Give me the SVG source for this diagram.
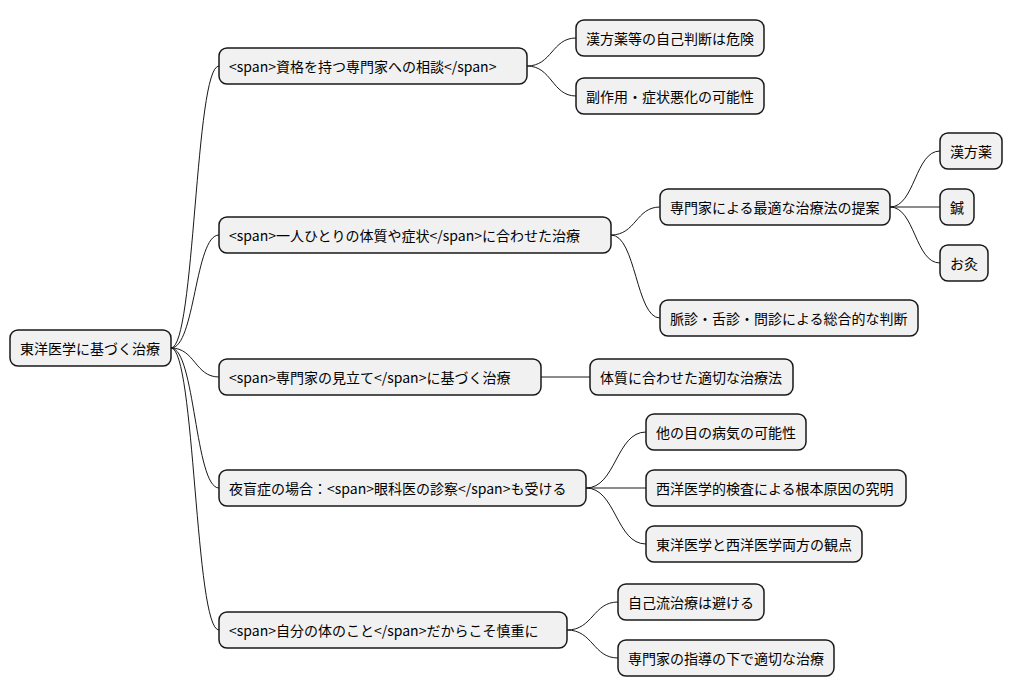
<svg xmlns="http://www.w3.org/2000/svg" width="1013" height="696" viewBox="0 0 1013 696">
<style>
rect{fill:#F1F1F1;stroke:#181818;stroke-width:1.5}
text{font-family:"Noto Sans CJK JP","Noto Sans",sans-serif;font-size:14px;fill:#000;dominant-baseline:central}
path{fill:none;stroke:#181818;stroke-width:1}
</style>
<rect x="0" y="0" width="1013" height="696" style="fill:#fff;stroke:none"/>
<g id="connectors">
<path d="M171 348 C195 348 195 66 219 66"/>
<path d="M171 348 C195 348 195 235 219 235"/>
<path d="M171 348 C195 348 195 377 219 377"/>
<path d="M171 348 C195 348 195 488 219 488"/>
<path d="M171 348 C195 348 195 630 219 630"/>
<path d="M527 66 C552 66 552 38 576 38"/>
<path d="M527 66 C552 66 552 96 576 96"/>
<path d="M611 235 C636 235 636 207 660 207"/>
<path d="M611 235 C636 235 636 318 660 318"/>
<path d="M541 377 L590 377"/>
<path d="M586 488 C616 488 616 432 646 432"/>
<path d="M586 488 L646 488"/>
<path d="M586 488 C616 488 616 544 646 544"/>
<path d="M567 630 C593 630 593 602 618 602"/>
<path d="M567 630 C593 630 593 658 618 658"/>
<path d="M890 207 C915 207 915 151 940 151"/>
<path d="M890 207 L940 207"/>
<path d="M890 207 C915 207 915 263 940 263"/>
</g>
<g id="root"><rect x="10" y="330" width="161" height="36" rx="8"/><text x="20" y="348">東洋医学に基づく治療</text></g>
<g id="n1"><rect x="219" y="48" width="308" height="36" rx="8"/><text x="229" y="66">&lt;span&gt;資格を持つ専門家への相談&lt;/span&gt;</text></g>
<g id="n2"><rect x="219" y="217" width="392" height="36" rx="8"/><text x="229" y="235">&lt;span&gt;一人ひとりの体質や症状&lt;/span&gt;に合わせた治療</text></g>
<g id="n3"><rect x="219" y="359" width="322" height="36" rx="8"/><text x="229" y="377">&lt;span&gt;専門家の見立て&lt;/span&gt;に基づく治療</text></g>
<g id="n4"><rect x="219" y="470" width="367" height="36" rx="8"/><text x="229" y="488">夜盲症の場合：&lt;span&gt;眼科医の診察&lt;/span&gt;も受ける</text></g>
<g id="n5"><rect x="219" y="612" width="348" height="36" rx="8"/><text x="229" y="630">&lt;span&gt;自分の体のこと&lt;/span&gt;だからこそ慎重に</text></g>
<g id="n1a"><rect x="576" y="20" width="188" height="36" rx="8"/><text x="586" y="38">漢方薬等の自己判断は危険</text></g>
<g id="n1b"><rect x="576" y="78" width="188" height="36" rx="8"/><text x="586" y="96">副作用・症状悪化の可能性</text></g>
<g id="n2a"><rect x="660" y="189" width="230" height="36" rx="8"/><text x="670" y="207">専門家による最適な治療法の提案</text></g>
<g id="n2b"><rect x="660" y="300" width="258" height="36" rx="8"/><text x="670" y="318">脈診・舌診・問診による総合的な判断</text></g>
<g id="n3a"><rect x="590" y="359" width="203" height="36" rx="8"/><text x="600" y="377">体質に合わせた適切な治療法</text></g>
<g id="n4a"><rect x="646" y="414" width="160" height="36" rx="8"/><text x="656" y="432">他の目の病気の可能性</text></g>
<g id="n4b"><rect x="646" y="470" width="260" height="36" rx="8"/><text x="656" y="488">西洋医学的検査による根本原因の究明</text></g>
<g id="n4c"><rect x="646" y="526" width="216" height="36" rx="8"/><text x="656" y="544">東洋医学と西洋医学両方の観点</text></g>
<g id="n5a"><rect x="618" y="584" width="146" height="36" rx="8"/><text x="628" y="602">自己流治療は避ける</text></g>
<g id="n5b"><rect x="618" y="640" width="216" height="36" rx="8"/><text x="628" y="658">専門家の指導の下で適切な治療</text></g>
<g id="n2a1"><rect x="940" y="133" width="62" height="36" rx="8"/><text x="950" y="151">漢方薬</text></g>
<g id="n2a2"><rect x="940" y="189" width="34" height="36" rx="8"/><text x="950" y="207">鍼</text></g>
<g id="n2a3"><rect x="940" y="245" width="48" height="36" rx="8"/><text x="950" y="263">お灸</text></g>
</svg>
